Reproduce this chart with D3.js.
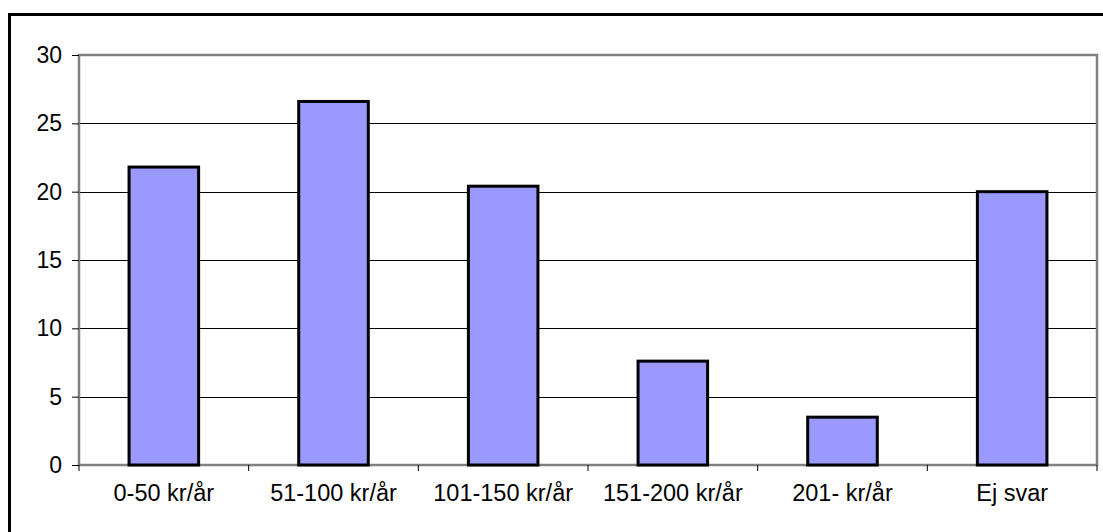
<!DOCTYPE html>
<html>
<head>
<meta charset="utf-8">
<script src="https://cdn.jsdelivr.net/npm/d3@7"></script>
<style>
  html, body { margin: 0; padding: 0; background: #fff; }
  svg { display: block; font-family: "Liberation Sans", Arial, sans-serif; }
</style>
</head>
<body>
<svg id="chart" width="1103" height="532"></svg>
<script>
const categories = ['0-50 kr/år', '51-100 kr/år', '101-150 kr/år', '151-200 kr/år', '201- kr/år', 'Ej svar'];
const values = [21.8, 26.6, 20.4, 7.6, 3.5, 20.0];
const yTicks = [0, 5, 10, 15, 20, 25, 30];

const svg = d3.select('#chart');
const plot = { left: 79, right: 1097, top: 55, bottom: 465 };

// Outer chart frame (runs off the right/bottom edges of the picture)
svg.append('rect')
  .attr('x', 9.5).attr('y', 14.5)
  .attr('width', 1110).attr('height', 540)
  .attr('fill', 'none')
  .attr('stroke', '#000')
  .attr('stroke-width', 3);

const x = d3.scaleBand()
  .domain(categories)
  .range([plot.left, plot.right])
  .paddingInner(0.59)
  .paddingOuter(0.295);

const y = d3.scaleLinear()
  .domain([0, 30])
  .range([plot.bottom, plot.top]);

// Gridlines
svg.append('g')
  .selectAll('line')
  .data(yTicks.filter((t) => t > 0 && t < 30))
  .join('line')
  .attr('x1', plot.left).attr('x2', plot.right)
  .attr('y1', (d) => Math.round(y(d)) + 0.5)
  .attr('y2', (d) => Math.round(y(d)) + 0.5)
  .attr('stroke', '#000')
  .attr('stroke-width', 1);

// Plot area border (grey)
svg.append('rect')
  .attr('x', plot.left).attr('y', plot.top)
  .attr('width', plot.right - plot.left)
  .attr('height', plot.bottom - plot.top)
  .attr('fill', 'none')
  .attr('stroke', '#808080')
  .attr('stroke-width', 2.5);

// Bars
svg.append('g')
  .selectAll('rect')
  .data(values)
  .join('rect')
  .attr('x', (d, i) => x(categories[i]))
  .attr('y', (d) => y(d))
  .attr('width', x.bandwidth())
  .attr('height', (d) => y(0) - y(d))
  .attr('fill', '#9999ff')
  .attr('stroke', '#000')
  .attr('stroke-width', 3);

// Y axis
const yAxis = d3.axisLeft(y)
  .tickValues(yTicks)
  .tickSize(7)
  .tickPadding(10)
  .tickFormat(d3.format('d'));

const gy = svg.append('g')
  .attr('transform', `translate(${plot.left},0)`)
  .call(yAxis);
gy.select('.domain').remove();
gy.selectAll('line').attr('stroke', '#000');
gy.selectAll('text')
  .attr('font-size', 23)
  .attr('fill', '#000')
  .attr('font-family', '"Liberation Sans", Arial, sans-serif');

// X axis: ticks at category boundaries
const step = x.step();
const boundaries = d3.range(categories.length + 1).map((i) => plot.left + i * (plot.right - plot.left) / categories.length);
svg.append('g')
  .selectAll('line')
  .data(boundaries)
  .join('line')
  .attr('x1', (d) => d).attr('x2', (d) => d)
  .attr('y1', plot.bottom).attr('y2', plot.bottom + 6)
  .attr('stroke', '#000')
  .attr('stroke-width', 1);

svg.append('g')
  .selectAll('text')
  .data(categories)
  .join('text')
  .attr('x', (d) => x(d) + x.bandwidth() / 2)
  .attr('y', 501)
  .attr('text-anchor', 'middle')
  .attr('font-size', 23.5)
  .attr('fill', '#000')
  .text((d) => d);
</script>
</body>
</html>
